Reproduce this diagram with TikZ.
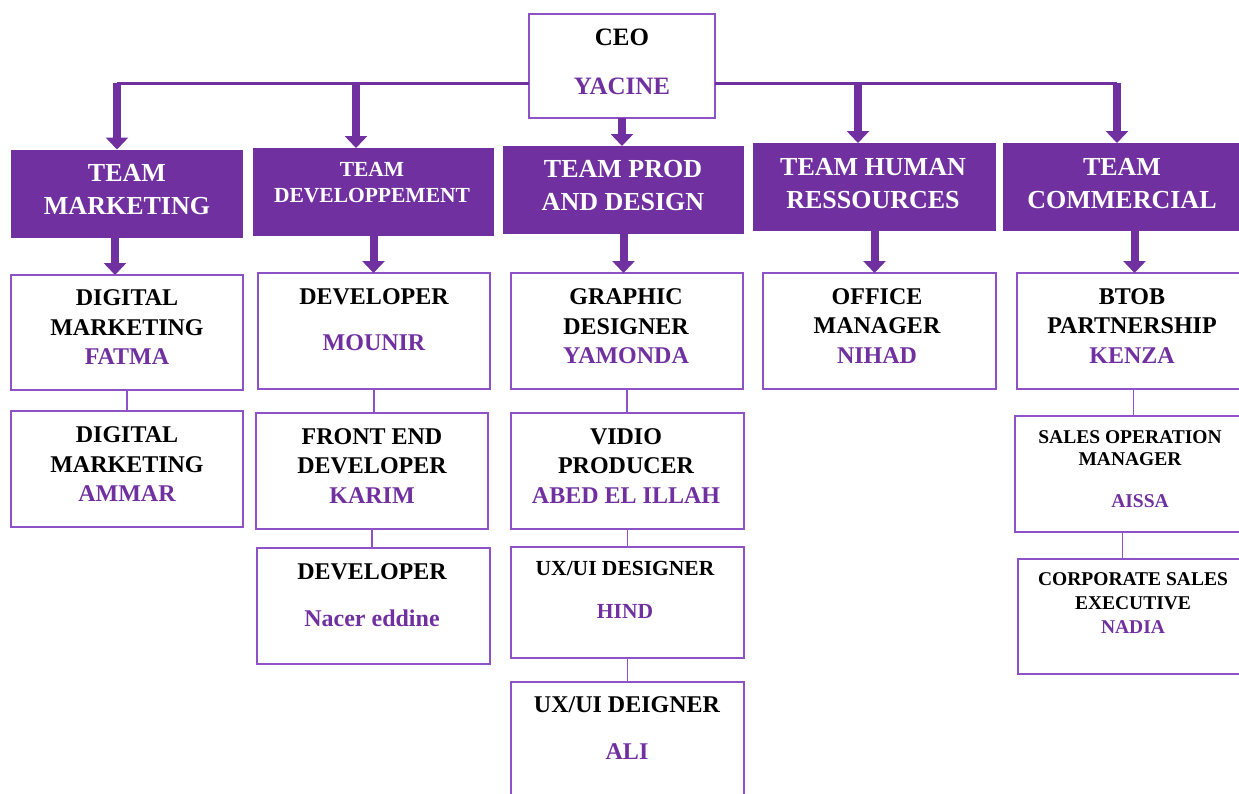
\documentclass[tikz,border=0pt]{standalone}
\usepackage{fontspec}
\setmainfont{Liberation Serif}
\usetikzlibrary{arrows.meta}

\definecolor{teamfill}{HTML}{7030A0}
\definecolor{edgecol}{HTML}{8E52C6}
\newcommand{\who}[1]{\textcolor{teamfill}{#1}}

\begin{document}
\begin{tikzpicture}
    [
    x=1pt, y=-1pt,
    card/.style={draw=edgecol,line width=1.6pt,fill=white,inner sep=0pt,outer sep=0pt},
    team/.style={fill=teamfill,inner sep=0pt,outer sep=0pt,minimum height=88pt},
    role/.style={align=center,inner sep=0pt,font=\bfseries\fontsize{24}{29.5}\selectfont},
    smallrole/.style={role,font=\bfseries\fontsize{19.5}{22}\selectfont},
    teamtext/.style={role,text=white,font=\bfseries\fontsize{26}{33}\selectfont},
    drop/.style={draw=teamfill,line width=8pt,-{Triangle[width=22pt,length=12pt]}},
    feed/.style={draw=teamfill,line width=3pt},
    tie/.style={draw=edgecol,line width=1.6pt},
    ]
    \clip (0,0) rectangle (1239,793);

    % head
    \node (ceo) at (622,66) [card,minimum width=186pt,minimum height=104pt] {};
    \node (ceo-t) at (622,61.5) [role,font=\bfseries\fontsize{25}{24.5}\selectfont]
        {CEO\\[24.5pt]\who{YACINE}};

    % teams
    \node (mkt)  at (127,193.5)  [team,minimum width=232pt] {};
    \node (dev)  at (373.5,192)  [team,minimum width=241pt] {};
    \node (prod) at (623.5,190)  [team,minimum width=241pt] {};
    \node (hr)   at (874.5,187)  [team,minimum width=243pt] {};
    \node (com)  at (1126.5,187) [team,minimum width=247pt] {};
    \node (mkt-t)  at (127,189.5)  [teamtext] {TEAM\\MARKETING};
    \node (dev-t)  at (372,183)    [teamtext,font=\bfseries\fontsize{21.5}{26}\selectfont] {TEAM\\DEVELOPPEMENT};
    \node (prod-t) at (623,185.5)  [teamtext] {TEAM PROD\\AND DESIGN};
    \node (hr-t)   at (873,183.5)  [teamtext] {TEAM HUMAN\\RESSOURCES};
    \node (com-t)  at (1122,183.5) [teamtext] {TEAM\\COMMERCIAL};

    % people
    \node (fatma)   at (127,332.5)  [card,minimum width=232pt,minimum height=115pt] {};
    \node (mounir)  at (374,331)    [card,minimum width=232pt,minimum height=116pt] {};
    \node (yamonda) at (627,331)    [card,minimum width=232pt,minimum height=116pt] {};
    \node (nihad)   at (879.5,331)  [card,minimum width=233pt,minimum height=116pt] {};
    \node (kenza)   at (1133.5,331) [card,minimum width=233pt,minimum height=116pt] {};
    \node (ammar)   at (127,469)    [card,minimum width=232pt,minimum height=116pt] {};
    \node (karim)   at (372,471)    [card,minimum width=232pt,minimum height=116pt] {};
    \node (abed)    at (627.5,471)  [card,minimum width=233pt,minimum height=116pt] {};
    \node (aissa)   at (1132.5,474) [card,minimum width=235pt,minimum height=116pt] {};
    \node (nacer)   at (373.5,606)  [card,minimum width=233pt,minimum height=116pt] {};
    \node (hind)    at (627.5,602.5)[card,minimum width=233pt,minimum height=111pt] {};
    \node (nadia)   at (1134,616.5) [card,minimum width=232pt,minimum height=115pt] {};
    \node (ali)     at (627.5,746)  [card,minimum width=233pt,minimum height=128pt] {};

    \node (fatma-t)   at (127,327.5) [role] {DIGITAL\\MARKETING\\\who{FATMA}};
    \node (mounir-t)  at (374,320)   [role] {DEVELOPER\\[16.5pt]\who{MOUNIR}};
    \node (yamonda-t) at (626,326.5) [role] {GRAPHIC\\DESIGNER\\\who{YAMONDA}};
    \node (nihad-t)   at (877,326)   [role] {OFFICE\\MANAGER\\\who{NIHAD}};
    \node (kenza-t)   at (1132,326)  [role] {BTOB\\PARTNERSHIP\\\who{KENZA}};
    \node (ammar-t)   at (127,464.5) [role] {DIGITAL\\MARKETING\\\who{AMMAR}};
    \node (karim-t)   at (372,466)   [role] {FRONT END\\DEVELOPER\\\who{KARIM}};
    \node (abed-t)    at (626,466)   [role] {VIDIO\\PRODUCER\\\who{ABED EL ILLAH}};
    \node (aissa-t)   at (1130,469)  [smallrole] {SALES OPERATION\\MANAGER\\[20pt]\hspace*{20pt}\who{AISSA}};
    \node (nacer-t)   at (372,595.5) [role] {DEVELOPER\\[17.5pt]\who{Nacer eddine}};
    \node (hind-t)    at (625,589.5) [role,font=\bfseries\fontsize{21.5}{26}\selectfont] {UX/UI DESIGNER\\[17pt]\who{HIND}};
    \node (nadia-t)   at (1133,603)  [smallrole,font=\bfseries\fontsize{19.5}{24}\selectfont] {CORPORATE SALES\\EXECUTIVE\\\who{NADIA}};
    \node (ali-t)     at (627,728.5) [role] {UX/UI DEIGNER\\[17.5pt]\who{ALI}};

    % ceo to teams
    \coordinate (fork-l)   at (117,83);
    \coordinate (fork-dev) at (356,83);
    \coordinate (fork-hr)  at (858,83);
    \coordinate (fork-r)   at (1117,83);
    \draw [feed] ([yshift=-17pt]ceo.west) -- (fork-l);
    \draw [feed] ([yshift=-17pt]ceo.east) -- (fork-r);
    \draw [drop] (fork-l) -- (fork-l |- mkt.north);
    \draw [drop] (fork-dev) -- (fork-dev |- dev.north);
    \draw [drop] (ceo.south) -- (ceo.south |- prod.north);
    \draw [drop] (fork-hr) -- (fork-hr |- hr.north);
    \draw [drop] (fork-r) -- (fork-r |- com.north);

    % teams to first member
    \draw [drop] ([xshift=-12pt]mkt.south) -- ([xshift=-12pt]mkt.south |- fatma.north);
    \draw [drop] (dev.south) -- (dev.south |- mounir.north);
    \draw [drop] (prod.south) -- (prod.south |- yamonda.north);
    \draw [drop] (hr.south) -- (hr.south |- nihad.north);
    \draw [drop] ([xshift=8pt]com.south) -- ([xshift=8pt]com.south |- kenza.north);

    % members below each other
    \foreach \a/\b in {fatma/ammar,mounir/karim,karim/nacer,yamonda/abed,abed/hind,hind/ali,kenza/aissa}
        \draw [tie] (\a.south) -- (\a.south |- \b.north);
    \draw [tie] ([xshift=-10pt]aissa.south) -- ([xshift=-10pt]aissa.south |- nadia.north);
\end{tikzpicture}
\end{document}
